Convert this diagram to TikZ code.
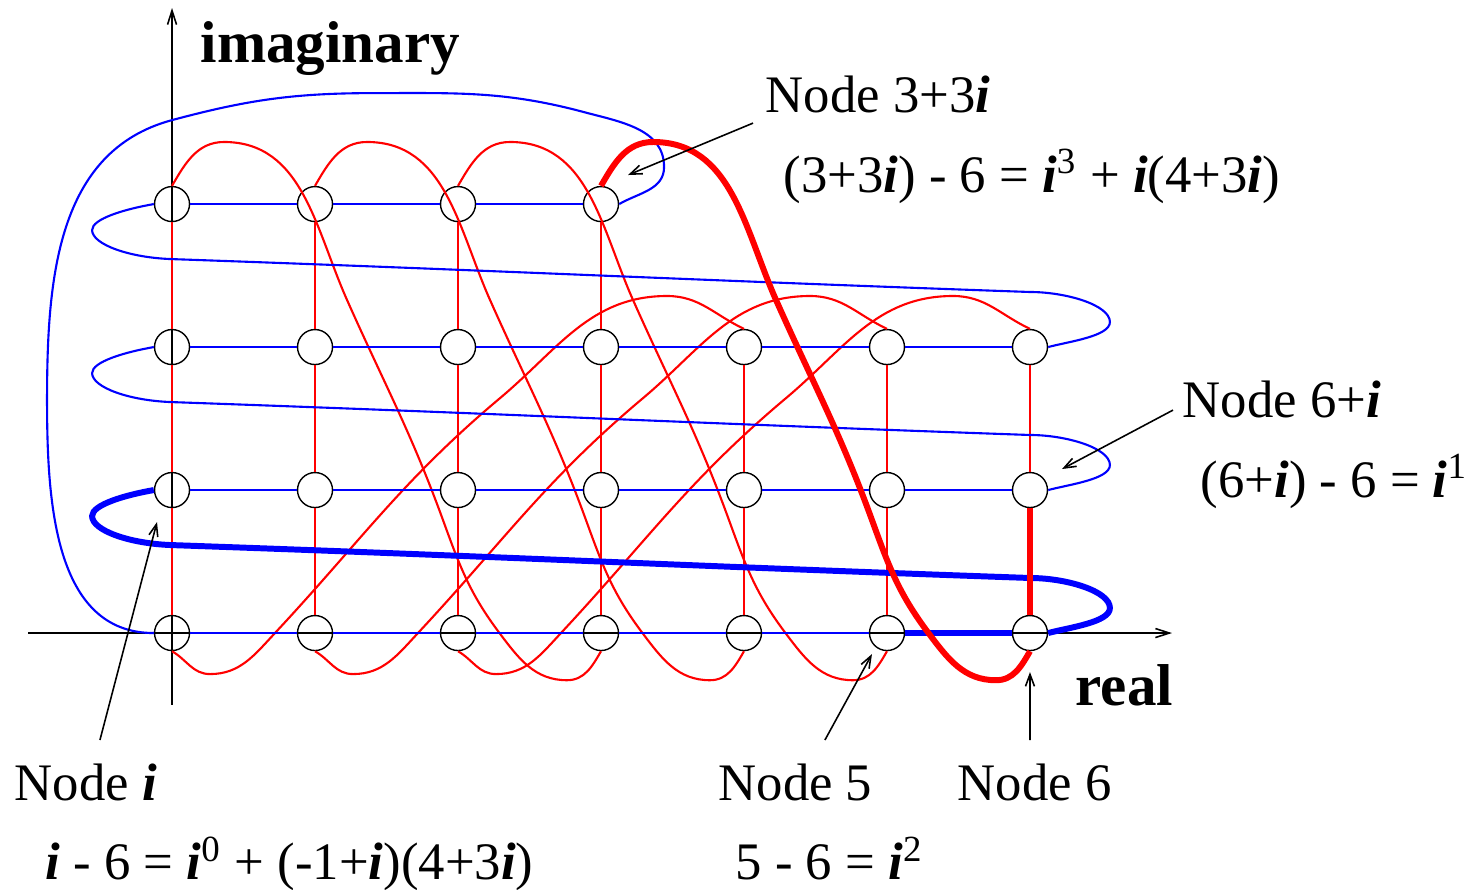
\documentclass[tikz,border=0pt]{standalone}
\usepackage{fontspec}
\setmainfont{Liberation Serif}
\usepackage{tikz}
\usetikzlibrary{arrows.meta, calc, positioning}
\definecolor{edgered}{RGB}{255,0,0}
\definecolor{edgeblue}{RGB}{0,0,255}
\newcommand{\unitI}{\textbf{\textit{i}}}

\begin{document}
\begin{tikzpicture}[x=1.43cm, y=1.43cm,
    gridnode/.style={circle, draw, line width=0.4pt, minimum size=0.35cm, inner sep=0pt},
    plusone/.style={edgeblue, line width=0.6pt},
    plusi/.style={edgered, line width=0.6pt},
    hot/.style={line width=1.7pt},
    axis/.style={-{Straight Barb[length=1.4mm, width=0.9mm]}, line width=0.45pt},
    pointer/.style={-{Straight Barb[length=1.2mm, width=0.9mm]}, line width=0.45pt},
    lbl/.style={anchor=base west, inner sep=0pt, font=\fontsize{15}{18}\selectfont},
    axislbl/.style={anchor=base west, inner sep=0pt, font=\fontsize{16.8}{20}\selectfont\bfseries}
]
\useasboundingbox (-1.203,-1.790) rectangle (9.140,4.427);

% axes
\coordinate (xfrom) at (-1.007,0);
\coordinate (xto) at (6.993,0);
\coordinate (yfrom) at (0,-0.503);
\coordinate (yto) at (0,4.371);
\draw[axis] (xfrom) -- (xto);
\draw[axis] (yfrom) -- (yto);

% nodes of the network
\foreach \b in {0,1,2}
  \foreach \a in {0,...,6}
    \node[gridnode] (n\a\b) at (\a,\b) {};
\foreach \a in {0,...,3}
  \node[gridnode] (n\a3) at (\a,3) {};

% +i edges
\foreach \a in {0,...,3}
  \foreach \b/\c in {0/1,1/2,2/3}
    \draw[plusi] (n\a\b) -- (n\a\c);
\foreach \a/\b/\c in {4/0/1,5/0/1,4/1/2,5/1/2,6/1/2}
  \draw[plusi] (n\a\b) -- (n\a\c);

\foreach \a/\t in {0/3,1/4,2/5}
  \draw[plusi] (n\a3.north) to[out=60,in=180] ($(n\a3)+(0.364,0.434)$)
    to[out=0,in=114] ($(n\a3)+(1.224,-0.671)$)
    to[out=-66,in=110] ($(n\a3)+(1.895,-2.210)$)
    to[out=-70,in=127] ($(n\a3)+(2.29,-3.0)$)
    to[out=-53,in=180] ($(n\a3)+(2.762,-3.33)$)
    to[out=0,in=-120] (n\t0.south);

\foreach \a/\t in {4/0,5/1,6/2}
  \draw[plusi] (n\a2.north) to[out=155,in=0] ($(n\a2)+(-0.538,0.357)$)
    to[out=180,in=40] ($(n\a2)+(-1.706,-0.357)$)
    to[out=220,in=47] ($(n\a2)+(-3.280,-2.0)$)
    to[out=227,in=0] ($(n\a2)+(-3.734,-2.287)$)
    to[out=180,in=-30] (n\t0.south);

% +1 edges
\foreach \b in {0,1,2}
  \foreach \a/\c in {0/1,1/2,2/3,3/4,4/5}
    \draw[plusone] (n\a\b) -- (n\c\b);
\foreach \b in {1,2}
  \draw[plusone] (n5\b) -- (n6\b);
\foreach \a/\c in {0/1,1/2,2/3}
  \draw[plusone] (n\a3) -- (n\c3);

\foreach \j/\k in {1/2,2/3}
  \draw[plusone] (n6\j.east) .. controls +(15:0.15) and +(0,-0.1) .. ($(n6\j)+(0.559,0.175)$)
    .. controls +(0,0.12) and +(0.25,0) .. ($(n6\j)+(0,0.385)$)
    to[out=178,in=-2] ($(n6\j)+(-6,0.615)$)
    .. controls +(-0.3,0.01) and +(0,-0.1) .. ($(n6\j)+(-6.559,0.818)$)
    .. controls +(0,0.08) and +(-0.2,-0.035) .. (n0\k.west);

\draw[plusone] (n33.east) to[out=30,in=-90] ($(n33)+(0.441,0.259)$)
  to[out=90,in=-15] ($(n33)+(-0.119,0.643)$)
  to[out=165,in=0] ($(n33)+(-1.573,0.776)$)
  to[out=180,in=15] ($(n33)+(-3,0.587)$)
  to[out=195,in=90] ($(n33)+(-3.874,-1.371)$)
  to[out=-90,in=180] (n00.west);

% edges of node 6
\draw[plusone, hot] (n50) -- (n60);
\draw[plusone, hot] (n60.east) .. controls +(15:0.15) and +(0,-0.1) .. ($(n60)+(0.559,0.175)$)
  .. controls +(0,0.12) and +(0.25,0) .. ($(n60)+(0,0.385)$)
  to[out=178,in=-2] ($(n60)+(-6,0.615)$)
  .. controls +(-0.3,0.01) and +(0,-0.1) .. ($(n60)+(-6.559,0.818)$)
  .. controls +(0,0.08) and +(-0.2,-0.035) .. (n01.west);
\draw[plusi, hot] (n60) -- (n61);
\draw[plusi, hot] (n33.north) to[out=60,in=180] ($(n33)+(0.364,0.434)$)
  to[out=0,in=114] ($(n33)+(1.224,-0.671)$)
  to[out=-66,in=110] ($(n33)+(1.895,-2.210)$)
  to[out=-70,in=127] ($(n33)+(2.29,-3.0)$)
  to[out=-53,in=180] ($(n33)+(2.762,-3.33)$)
  to[out=0,in=-120] (n60.south);

% labels
\node[axislbl] (imlbl) at (0.196,3.993) {imaginary};
\node[axislbl] (relbl) at (6.315,-0.510) {real};
\node[lbl] (lbl33) at (4.147,3.643) {Node 3+3\unitI};
\node[lbl] (eq33) at (4.273,3.084) {(3+3\unitI) - 6 = \unitI\textsuperscript{3} + \unitI(4+3\unitI)};
\node[lbl] (lbl61) at (7.063,1.510) {Node 6+\unitI};
\node[lbl] (eq61) at (7.189,0.951) {(6+\unitI) - 6 = \unitI\textsuperscript{1}};
\node[lbl] (lbl01) at (-1.105,-1.168) {Node \unitI};
\node[lbl] (eq01) at (-0.888,-1.727) {\unitI{} - 6 = \unitI\textsuperscript{0} + (-1+\unitI)(4+3\unitI)};
\node[lbl] (lbl50) at (3.818,-1.168) {Node 5};
\node[lbl] (eq50) at (3.937,-1.727) {5 - 6 = \unitI\textsuperscript{2}};
\node[lbl] (lbl60) at (5.490,-1.168) {Node 6};

\draw[pointer] ($(lbl33.base west)+(-0.084,-0.077)$) -- ($(n33)+(0.189,0.203)$);
\draw[pointer] ($(lbl61.base west)+(-0.063,0.049)$) -- ($(n61)+(0.224,0.147)$);
\draw[pointer] ($(lbl01.base west)+(0.601,0.420)$) -- ($(n01)+(-0.105,-0.224)$);
\draw[pointer] ($(lbl50.base west)+(0.748,0.420)$) -- ($(n50)+(-0.105,-0.147)$);
\draw[pointer] ($(lbl60.base west)+(0.510,0.420)$) -- ($(n60)+(0,-0.273)$);

\end{tikzpicture}
\end{document}
